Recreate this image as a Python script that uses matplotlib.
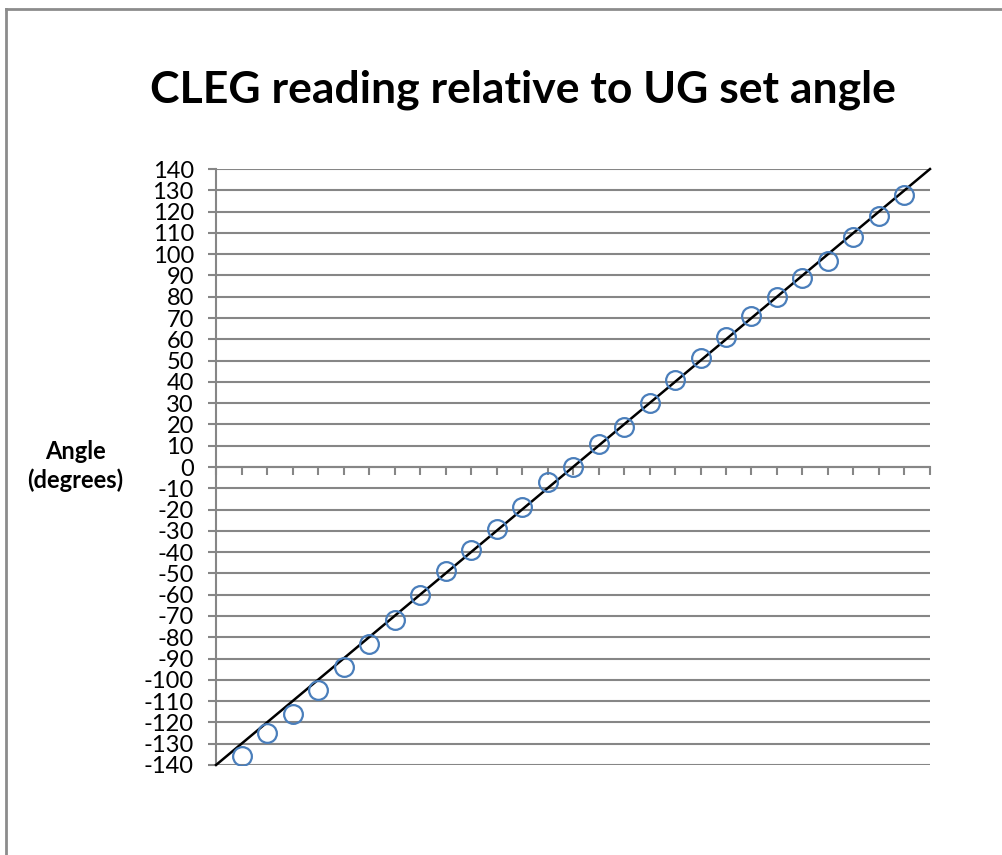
import matplotlib
matplotlib.use('Agg')
import matplotlib.pyplot as plt
from matplotlib.lines import Line2D

plt.rcParams['font.family'] = ['Lato', 'DejaVu Sans']

# UG set angle (x) and CLEG reading (y)
set_angle = [-130, -120, -110, -100, -90, -80, -70, -60, -50, -40, -30, -20, -10,
             0, 10, 20, 30, 40, 50, 60, 70, 80, 90, 100, 110, 120, 130]
cleg_reading = [-136, -125, -116, -105, -94, -83, -72, -60, -49, -39, -29, -19, -7,
                0, 11, 19, 30, 41, 51, 61, 71, 80, 89, 97, 108, 118, 128]
ideal_x = [-140, 140]
ideal_y = [-140, 140]
y_ticks = list(range(-140, 150, 10))
x_ticks = list(range(-140, 150, 10))

fig = plt.figure(figsize=(10.03, 8.55), dpi=100)
ax = fig.add_axes([0.2154, 0.1053, 0.7118, 0.6970])

grid_col = '#868686'
for y in y_ticks:
    ax.axhline(y, color=grid_col, linewidth=1.5, zorder=1)

ax.plot(ideal_x, ideal_y, color='black', linewidth=1.8, zorder=3, clip_on=False)
ax.plot(set_angle, cleg_reading, linestyle='none', marker='o', markersize=13.5,
        markerfacecolor='none', markeredgecolor='#4A7EBB', markeredgewidth=1.6, zorder=4)

ax.set_xlim(-140, 140)
ax.set_ylim(-140, 140)
ax.set_yticks(y_ticks)
ax.set_yticklabels([str(v) for v in y_ticks], fontsize=17)
ax.set_xticks(x_ticks)
ax.set_xticklabels([])

for s in ['top', 'right']:
    ax.spines[s].set_visible(False)
ax.spines['bottom'].set_position(('data', 0))
ax.spines['bottom'].set_color(grid_col)
ax.spines['bottom'].set_linewidth(1.5)
ax.spines['left'].set_color(grid_col)
ax.spines['left'].set_linewidth(1.5)
ax.tick_params(axis='y', direction='out', length=6, width=1.5, color=grid_col, pad=10)
ax.tick_params(axis='x', direction='out', length=6, width=1.5, color=grid_col)

fig.text(0.521, 0.895, 'CLEG reading relative to UG set angle', ha='center', va='center',
         fontsize=32, fontweight='bold')
fig.text(0.075, 0.455, 'Angle\n(degrees)', ha='center', va='center',
         fontsize=17, fontweight='bold', linespacing=1.3)

# chart area border (left and top edges visible)
fig.add_artist(Line2D([6 / 1003, 6 / 1003], [0, 1 - 9 / 855], transform=fig.transFigure,
                      color='#8c8c8c', linewidth=2))
fig.add_artist(Line2D([6 / 1003, 1], [1 - 9 / 855, 1 - 9 / 855], transform=fig.transFigure,
                      color='#8c8c8c', linewidth=2))

fig.savefig('out.png', dpi=100)
